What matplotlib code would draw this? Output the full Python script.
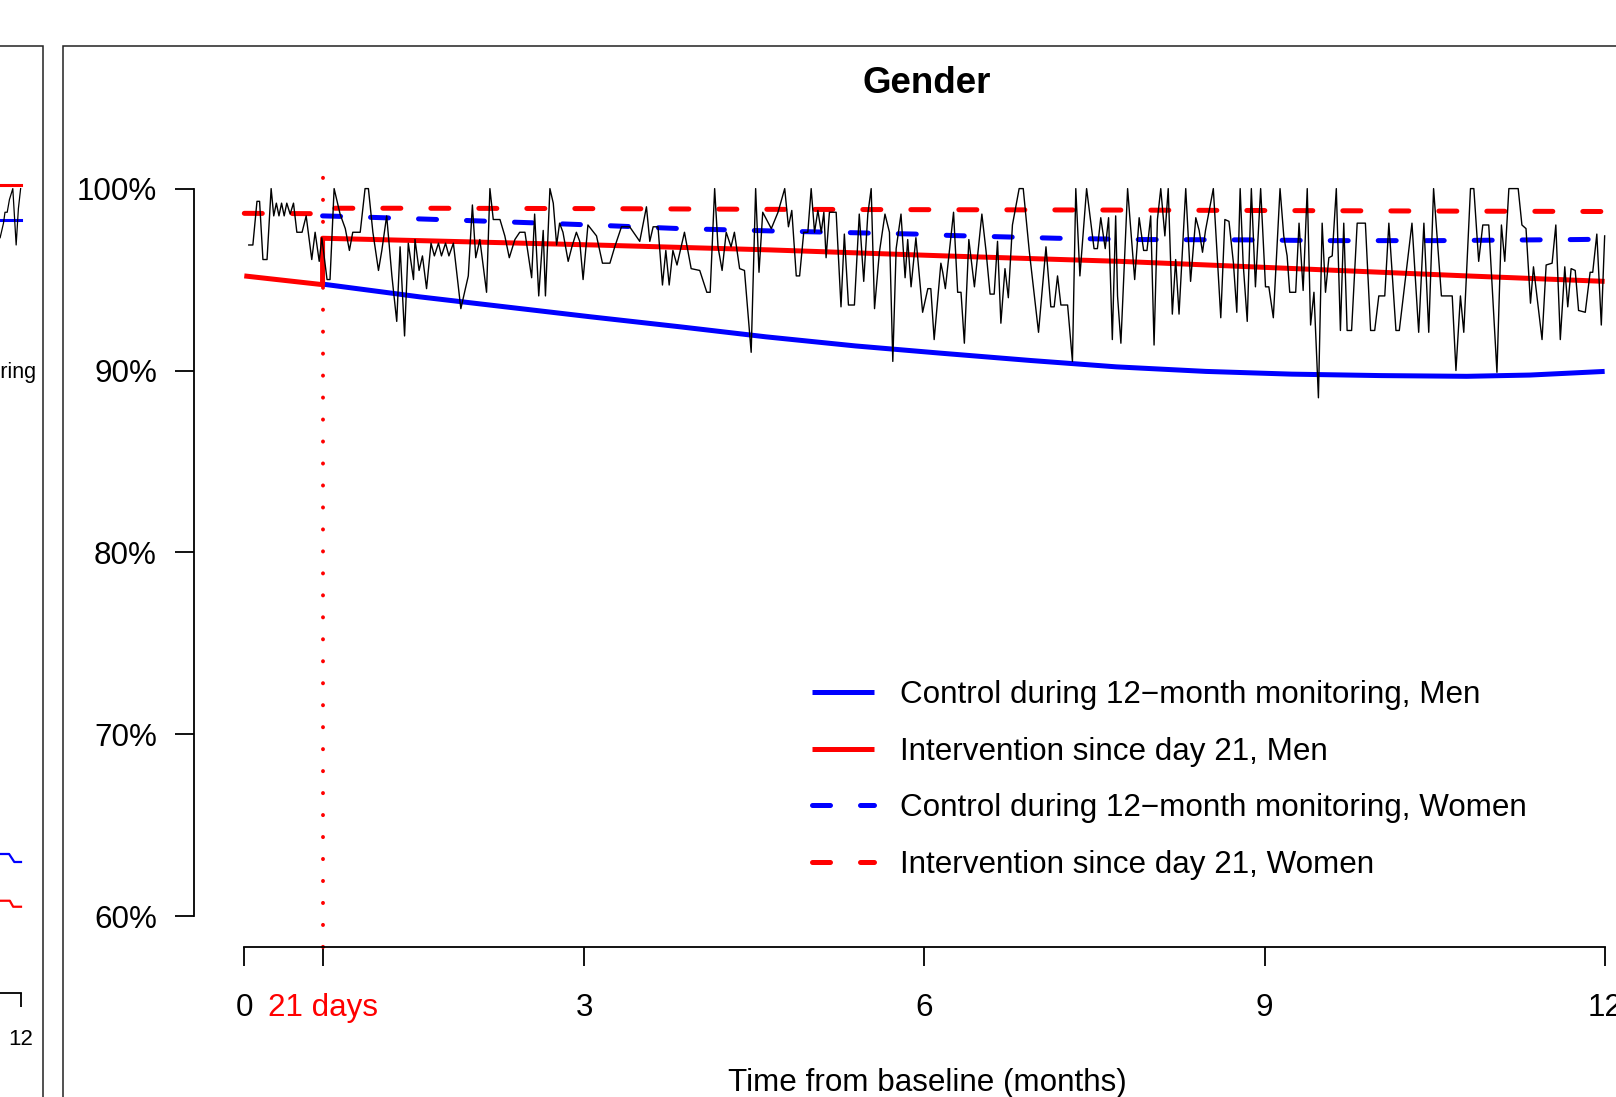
import matplotlib
matplotlib.use('Agg')
import matplotlib.pyplot as plt
from matplotlib.patches import Rectangle

plt.rcParams['font.family'] = ['Liberation Sans', 'DejaVu Sans']

# Data #
# daily share (black trace), x in days from baseline, y in %
obs_day = [1.2, 2.3, 3.4, 4.1, 5.0, 6.1, 7.2, 7.9, 8.6, 9.3, 10.0, 10.7, 11.4, 12.3, 13.2,
           14.1, 15.5, 16.6, 18.1, 19.0, 20.1, 20.8, 22.2, 23.0, 24.1, 25.7, 27.1, 28.2,
           29.1, 31.1, 32.4, 33.3, 34.5, 36.0, 36.9, 38.2, 39.6, 40.9, 41.8, 43.0, 44.0,
           45.4, 45.8, 46.9, 47.8, 48.9, 50.1, 51.0, 52.1, 52.9, 54.0, 54.9, 56.1, 58.1,
           60.1, 61.2, 62.1, 63.2, 65.0, 65.9, 66.8, 68.6, 69.9, 71.1, 72.6, 73.9, 75.3,
           77.1, 77.9, 79.0, 80.2, 80.8, 82.0, 82.9, 83.8, 84.6, 85.5, 86.9, 87.9, 89.1,
           90.0, 90.9, 92.2, 94.5, 96.1, 98.1, 99.4, 101.2, 103.4, 106.1, 107.9, 108.8,
           109.7, 111.0, 112.2, 113.1, 114.0, 115.0, 116.1, 118.1, 119.9, 122.2, 124.1,
           125.0, 126.2, 127.1, 128.2, 129.3, 130.6, 131.5, 132.9, 134.2, 136.0, 137.2,
           138.1, 139.1, 141.4, 143.2, 145.0, 146.0, 146.9, 148.1, 149.0, 150.1, 151.2,
           152.1, 153.0, 153.9, 154.8, 155.5, 156.1, 157.0, 158.8, 160.1, 161.0, 162.1,
           163.7, 165.0, 166.2, 167.3, 168.2, 169.1, 170.4, 171.9, 173.1, 174.0, 174.9,
           176.2, 177.3, 178.0, 178.9, 180.2, 182.0, 183.4, 184.2, 185.1, 186.9, 187.4,
           188.1, 189.2, 190.3, 191.4, 192.3, 193.2, 194.4, 195.9, 197.9, 199.0, 200.1,
           201.2, 202.1, 203.0, 204.1, 205.0, 206.1, 207.9, 209.0, 210.6, 213.1, 215.1,
           216.4, 217.3, 218.2, 219.1, 220.9, 222.2, 223.1, 224.2, 226.0, 228.0, 228.9,
           229.8, 231.0, 231.9, 232.9, 233.8, 234.3, 235.2, 237.0, 238.9, 240.1, 241.3,
           242.2, 243.2, 244.1, 245.0, 245.9, 247.0, 247.9, 249.0, 249.9, 250.8, 252.6,
           253.9, 255.3, 256.2, 257.1, 257.9, 260.0, 262.0, 263.1, 264.2, 265.4, 266.3,
           267.2, 268.0, 269.1, 270.2, 271.3, 272.7, 274.0, 274.9, 276.1, 277.9, 278.9,
           279.8, 280.5, 281.2, 282.1, 283.0, 284.1, 285.2, 286.1, 287.0, 288.2, 289.2,
           290.1, 291.0, 291.9, 293.0, 294.1, 295.0, 295.9, 297.1, 298.6, 300.8, 302.2,
           303.3, 304.4, 306.0, 307.1, 309.0, 309.9, 313.3, 315.1, 316.5, 317.8, 319.1,
           321.2, 324.1, 325.1, 326.3, 327.2, 329.0, 329.9, 331.2, 332.3, 333.9, 336.1,
           337.3, 338.2, 339.3, 341.8, 342.8, 343.9, 345.1, 345.9, 348.2, 349.3, 350.9,
           351.9, 353.1, 354.3, 355.1, 356.0, 357.1, 358.0, 359.8, 361.1, 361.8, 362.9,
           364.1, 365.0]
obs_pct = [96.9, 96.9, 99.3, 99.3, 96.1, 96.1, 100.0, 98.5, 99.2, 98.5, 99.2, 98.5, 99.2, 98.6, 99.2,
           97.6, 97.6, 98.5, 96.1, 97.6, 96.0, 97.3, 95.0, 95.0, 100.0, 98.6, 97.8, 96.6,
           97.6, 97.6, 100.0, 100.0, 97.6, 95.5, 96.6, 98.5, 95.2, 92.7, 96.8, 91.9, 97.0,
           95.0, 97.2, 95.5, 96.3, 94.5, 97.0, 96.3, 97.0, 96.3, 97.0, 96.3, 97.0, 93.4,
           95.2, 99.1, 96.2, 97.2, 94.3, 100.0, 98.3, 98.3, 97.4, 96.2, 97.2, 97.6, 97.6,
           95.1, 98.6, 94.1, 97.7, 94.1, 100.0, 99.2, 96.9, 98.1, 97.6, 96.0, 96.8, 97.6,
           97.1, 95.0, 98.0, 97.4, 95.9, 95.9, 96.8, 97.9, 97.9, 97.1, 99.0, 97.1,
           97.9, 97.9, 94.7, 96.6, 94.7, 96.6, 95.8, 97.6, 95.6, 95.5, 94.3,
           94.3, 100.0, 96.8, 95.5, 97.6, 96.8, 97.6, 95.6, 95.5, 91.0, 100.0,
           95.4, 98.7, 97.8, 98.7, 100.0, 97.9, 98.8, 95.2, 95.2, 97.6, 97.6,
           100.0, 97.6, 98.8, 97.6, 98.7, 96.2, 98.7, 98.7, 93.5, 97.5, 93.6,
           93.6, 98.6, 94.9, 98.6, 100.0, 93.4, 96.5, 98.6, 97.6, 90.5, 96.7,
           98.6, 95.1, 97.2, 94.6, 97.3, 93.2, 94.5, 94.5, 91.7, 95.9, 95.4,
           94.5, 96.6, 98.7, 94.3, 94.3, 91.5, 97.2, 94.6, 98.6, 96.6, 94.2,
           94.2, 97.1, 92.6, 95.6, 94.0, 98.0, 100.0, 100.0, 96.6, 92.1, 96.8,
           93.5, 93.5, 95.2, 93.6, 93.6, 90.5, 100.0, 95.2, 100.0, 96.7, 96.7,
           98.4, 96.7, 98.4, 91.7, 98.5, 94.1, 91.5, 100.0, 95.0, 98.4, 96.6,
           96.6, 98.5, 91.4, 98.3, 100.0, 97.4, 100.0, 93.1, 96.1, 93.1, 100.0,
           94.9, 98.4, 97.7, 96.5, 97.7, 100.0, 92.9, 98.3, 98.2, 95.9, 93.2,
           100.0, 95.9, 92.7, 100.0, 94.6, 100.0, 94.6, 94.6, 92.9, 100.0, 97.4,
           96.3, 94.3, 94.3, 94.3, 98.1, 94.4, 100.0, 92.5, 94.3, 88.5, 98.1,
           94.3, 96.2, 96.3, 100.0, 92.2, 98.1, 92.2, 92.2, 98.1, 98.1, 92.2,
           92.2, 94.1, 94.1, 98.1, 92.2, 92.2, 98.1, 92.1, 98.1, 92.1, 100.0,
           94.1, 94.1, 90.0, 94.1, 92.1, 100.0, 100.0, 96.0, 98.0, 98.0, 89.9,
           98.0, 96.0, 100.0, 100.0, 98.0, 97.8, 93.7, 95.7, 91.7, 95.8, 95.9,
           98.0, 91.7, 95.7, 93.5, 95.6, 95.5, 93.3, 93.2, 95.4, 95.4, 97.5,
           92.5, 97.4]

# fitted curves
ctrl_men_day = [21, 47, 70, 93, 117, 140, 164, 187, 211, 234, 258, 281, 305, 328, 345, 365]
ctrl_men_pct = [94.75, 94.05, 93.5, 92.95, 92.4, 91.85, 91.35, 90.95, 90.55, 90.2, 89.95,
                89.8, 89.72, 89.68, 89.75, 89.95]
int_men_day = [0, 21, 21, 47, 94, 141, 188, 235, 282, 328, 365]
int_men_pct = [95.2, 94.72, 97.27, 97.14, 96.9, 96.63, 96.3, 96.0, 95.6, 95.2, 94.9]
ctrl_wom_day = [21, 28, 55, 80, 93, 117, 142, 180, 190, 218, 240, 269, 290, 320, 358, 365]
ctrl_wom_pct = [98.5, 98.46, 98.28, 98.1, 98.0, 97.8, 97.67, 97.5, 97.42, 97.27, 97.2,
                97.18, 97.14, 97.14, 97.2, 97.22]
int_wom_day = [0, 21, 21, 47, 94, 141, 188, 235, 282, 328, 365]
int_wom_pct = [98.64, 98.62, 98.92, 98.92, 98.9, 98.86, 98.84, 98.82, 98.79, 98.76, 98.74]

legend_labels = ['Control during 12\u2212month monitoring, Men',
                 'Intervention since day 21, Men',
                 'Control during 12\u2212month monitoring, Women',
                 'Intervention since day 21, Women']

# neighbouring panel (only its right edge is visible)
left_obs_day = [359.4, 360.3, 360.7, 361.3, 361.9, 362.8, 363.7, 364.3, 364.9]
left_obs_pct = [97.3, 98.1, 98.7, 98.7, 99.4, 100.0, 96.9, 98.9, 100.0]
left_top_day = [355, 365]
left_int_top = [100.2, 100.2]
left_ctrl_top = [98.3, 98.3]
left_ctrl_low_day = [355, 361.8, 363.2, 365]
left_ctrl_low = [63.42, 63.42, 62.98, 62.98]
left_int_low_day = [355, 362.0, 362.9, 365]
left_int_low = [60.85, 60.85, 60.52, 60.52]

month_ticks = [0, 21, 365 / 4, 365 / 2, 3 * 365 / 4, 365]
month_labels = ['0', '21 days', '3', '6', '9', '12']
pct_ticks = [60, 70, 80, 90, 100]

# Layout (pixels of the 1616 x 1097 picture) #
W, H = 1616, 1097
fig = plt.figure(figsize=(W / 100, H / 100), dpi=100)

x0_px, px_day = 244.3, 3.727          # day 0 and pixels per day
y100_px, px_pct = 188.6, 18.19        # 100% and pixels per percent


def day_at(px):
    return (px - x0_px) / px_day


def pct_at(py):
    return 100 - (py - y100_px) / px_pct


def add_axes_px(left, right, top, bottom):
    return fig.add_axes([left / W, 1 - bottom / H, (right - left) / W, (bottom - top) / H])


# Panel borders #
fig.add_artist(Rectangle((63.3 / W, 1 - 1200 / H), (1800 - 63.3) / W, (1200 - 45.5) / H,
                         transform=fig.transFigure, fill=False, lw=1.1, ec='#222222'))
fig.add_artist(Rectangle((-200 / W, 1 - 1200 / H), (42.7 + 200) / W, (1200 - 45.5) / H,
                         transform=fig.transFigure, fill=False, lw=1.1, ec='#222222'))

# Main panel #
ax = add_axes_px(193.5, W, 150, 947)
ax.set_xlim(day_at(193.5), day_at(W))
ax.set_ylim(pct_at(947), pct_at(150))

dash = (3.6, 6.0)
ax.plot(ctrl_men_day, ctrl_men_pct, color='blue', lw=3.6, solid_capstyle='butt', label=legend_labels[0])
ax.plot(int_men_day, int_men_pct, color='red', lw=3.6, solid_capstyle='butt', label=legend_labels[1])
ax.plot(ctrl_wom_day, ctrl_wom_pct, color='blue', lw=3.6, dashes=dash, dash_capstyle='round',
        label=legend_labels[2])
ax.plot(int_wom_day, int_wom_pct, color='red', lw=3.6, dashes=dash, dash_capstyle='round',
        label=legend_labels[3])
ax.plot(obs_day, obs_pct, color='black', lw=1.0, zorder=5)
ax.vlines(21, pct_at(947), pct_at(168), colors='red', lw=2.8, linestyles=[(0, (0.05, 5.6))],
          capstyle='round', clip_on=False)

for s in ['top', 'right']:
    ax.spines[s].set_visible(False)
ax.spines['left'].set_bounds(60, 100)
ax.spines['bottom'].set_bounds(0, 365)
for s in ['left', 'bottom']:
    ax.spines[s].set_linewidth(1.3)

ax.set_yticks(pct_ticks)
ax.set_yticklabels(['%d%%' % v for v in pct_ticks])
ax.set_xticks(month_ticks)
ax.set_xticklabels(month_labels)
ax.get_xticklabels()[1].set_color('red')
ax.tick_params(axis='both', length=13.8, width=1.3, labelsize=22.6)
ax.tick_params(axis='y', pad=12.5)
ax.tick_params(axis='x', pad=19.2)

fig.text(927 / W, 1 - 83.5 / H, 'Gender', ha='center', va='center', fontsize=26.5, fontweight='bold')
fig.text(927 / W, 1 - 1083 / H, 'Time from baseline (months)', ha='center', va='center', fontsize=22.6)

ax.legend(loc='upper left', bbox_to_anchor=(812 / W, 1 - 680 / H), bbox_transform=fig.transFigure,
          frameon=False, fontsize=22.6, handlelength=1.98, handletextpad=0.83, labelspacing=0.85,
          borderpad=0, borderaxespad=0)

# Neighbouring panel #
axl = add_axes_px(-300, 40, 150, 993)
axl.set_xlim(365 - (21 + 300) / px_day, 365 + (40 - 21) / px_day)
axl.set_ylim(pct_at(993), pct_at(150))
axl.plot(left_top_day, left_int_top, color='red', lw=2.2)
axl.plot(left_top_day, left_ctrl_top, color='blue', lw=2.2)
axl.plot(left_ctrl_low_day, left_ctrl_low, color='blue', lw=1.6)
axl.plot(left_int_low_day, left_int_low, color='red', lw=1.6)
axl.plot(left_obs_day, left_obs_pct, color='black', lw=0.9)
for s in ['top', 'right', 'left']:
    axl.spines[s].set_visible(False)
axl.spines['bottom'].set_bounds(300, 365)
axl.spines['bottom'].set_linewidth(1.3)
axl.set_yticks([])
axl.set_xticks([365])
axl.set_xticklabels(['12'])
axl.tick_params(axis='x', length=10, width=1.3, labelsize=16, pad=16)
fig.text(36 / W, 1 - 378 / H, 'Control during 12\u2212month monitoring', ha='right', va='baseline',
         fontsize=15.5)

fig.savefig('out.png', dpi=100)
